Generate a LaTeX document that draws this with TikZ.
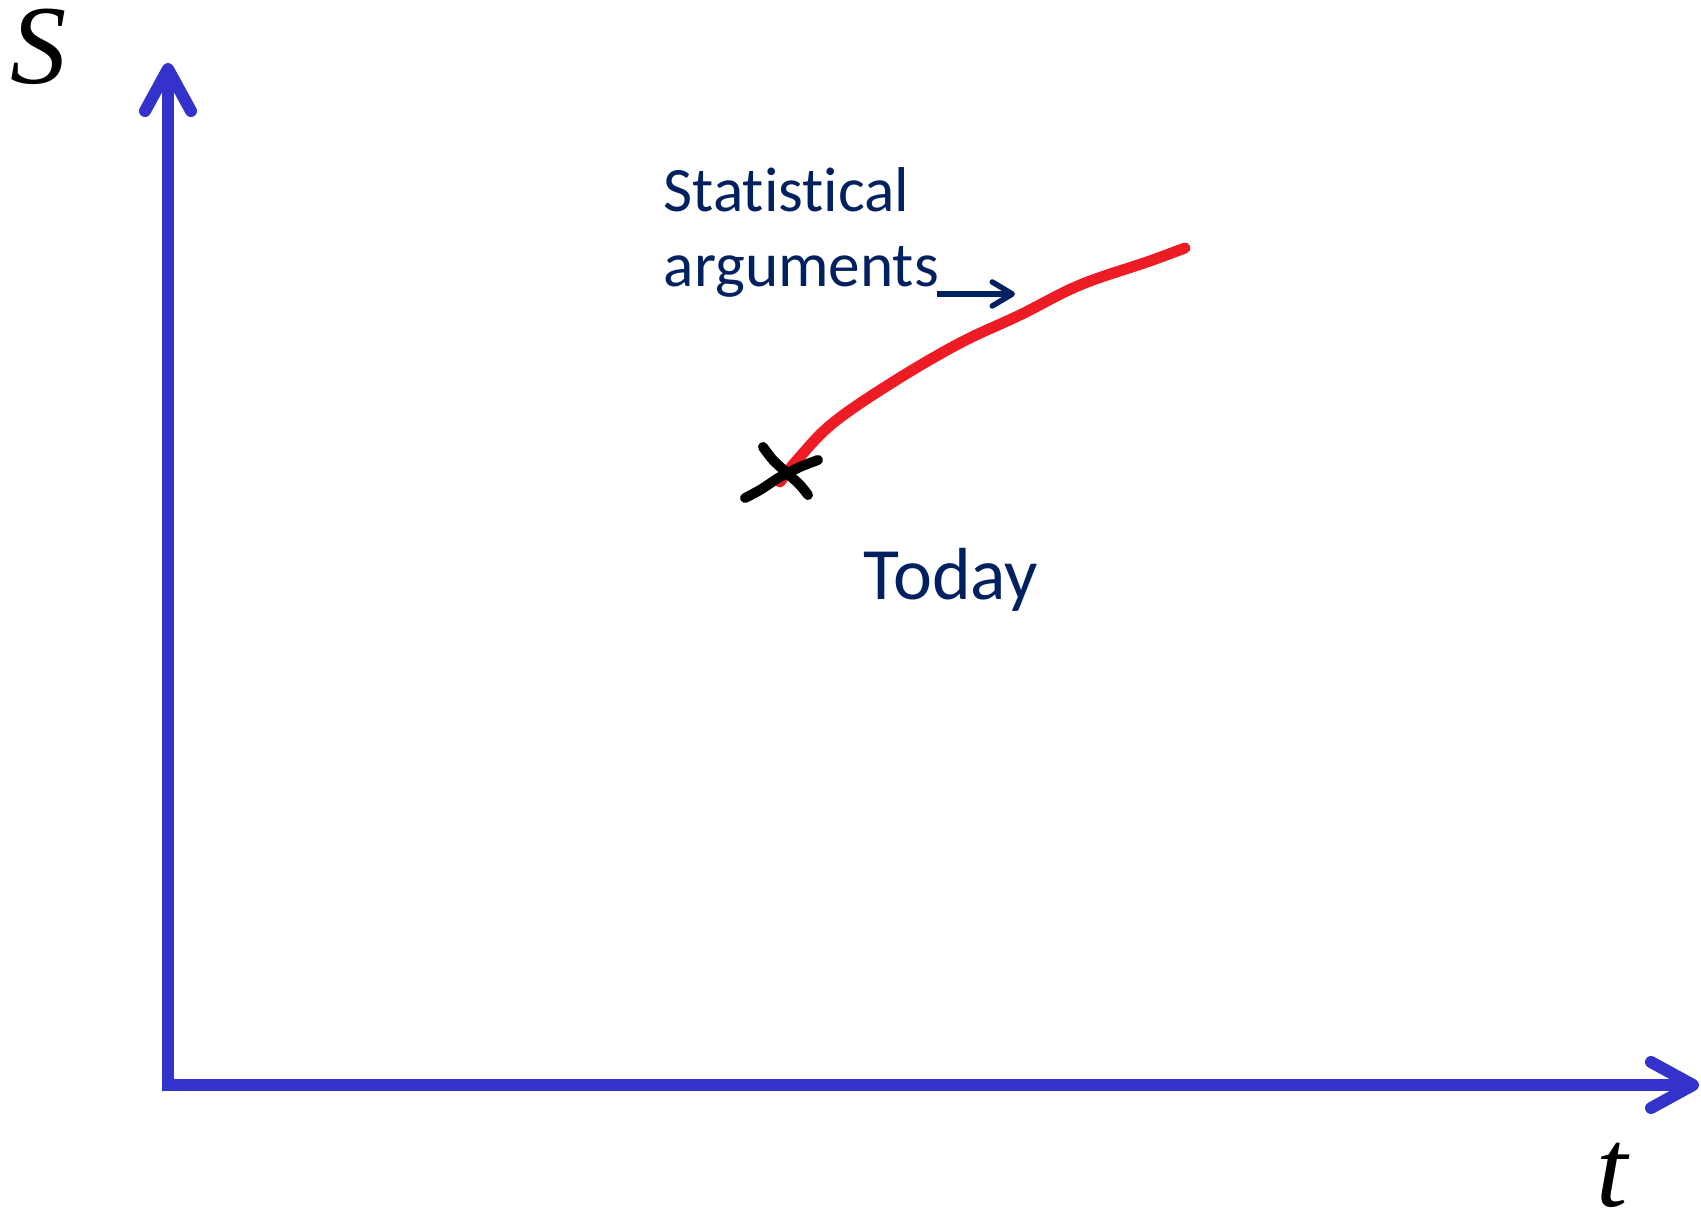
\documentclass[tikz,border=0pt]{standalone}
\usepackage{fontspec}
\setmainfont{Carlito}[Ligatures={NoCommon}]
\newfontfamily\axisfont{Liberation Serif}
\usetikzlibrary{arrows.meta,positioning}
\definecolor{axisblue}{RGB}{51,51,204}
\definecolor{navy}{RGB}{0,32,96}
\definecolor{penred}{RGB}{237,28,36}

\begin{document}
\begin{tikzpicture}[
  axis/.style={draw=axisblue, line width=0.12cm},
  axtip/.style={-{Straight Barb[round, length=0.42cm, width=0.46cm]}},
  axlbl/.style={font=\axisfont\itshape\fontsize{32}{32}\selectfont, inner sep=0pt},
  note/.style={text=navy, font=\fontsize{18}{21.3}\selectfont, inner sep=0pt, align=left},
  pointer/.style={draw=navy, line width=0.055cm, -{Straight Barb[round, length=0.2cm, width=0.24cm]}},
  trail/.style={draw=penred, line width=0.11cm, line cap=round, line join=round},
  cross/.style={draw=black, line width=0.1cm, line cap=round}
]
\useasboundingbox (-1.68,-1.33) rectangle (15.33,10.85);

% --- axes ---
\coordinate (orig) at (0,0);
\coordinate (foot) at (0,-0.06);
\coordinate (stop) at (0,10.22);
\coordinate (ttop) at (15.31,0);
\draw[axis, axtip] (foot) -- (stop);
\draw[axis, axtip] (orig) -- (ttop);
\node[axlbl] (slbl) at (-1.29,10.38) {S};
\node[axlbl] (tlbl) at (14.44,-0.90) {t};

% --- labels ---
\node[note, anchor=north west] (stat) at (4.95,9.18) {Statistical\\arguments};
\node[note, font=\fontsize{21}{24}\selectfont, anchor=base west] (today) at (6.95,4.85) {Today};

% pointer from the label
\coordinate (ptrA) at (7.69,7.91);
\coordinate (ptrB) at (8.47,7.91);
\draw[pointer] (ptrA) -- (ptrB);

% --- red trail, starting at today's cross ---
\coordinate (now) at (6.12,6.10);
\draw[trail] plot[smooth, tension=0.6] coordinates {(6.12,6.03) (6.30,6.26) (6.65,6.62)
  (7.25,7.03) (7.92,7.42) (8.52,7.70) (9.12,8.00) (9.79,8.23) (10.17,8.37)};

% the cross
\draw[cross] plot[smooth] coordinates {(5.95,6.38) (6.05,6.25) (6.19,6.12) (6.32,6.00) (6.40,5.90)};
\draw[cross] plot[smooth] coordinates {(5.77,5.87) (5.92,5.95) (6.12,6.08) (6.32,6.18) (6.50,6.25)};
\end{tikzpicture}
\end{document}
